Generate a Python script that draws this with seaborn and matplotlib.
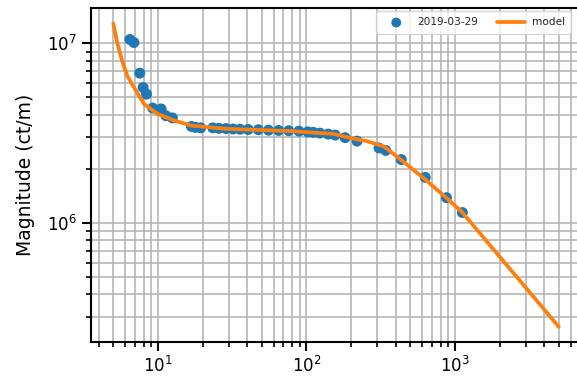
import matplotlib
matplotlib.use("Agg")
import matplotlib.pyplot as plt
import seaborn as sns
import pandas as pd

# measured points (2019-03-29)
freq = [6.47, 6.89, 7.54, 7.94, 8.37, 9.21, 10.5, 11.3, 12.5, 16.8, 17.9, 19.4,
        23.4, 25.7, 28.7, 32.0, 35.7, 40.5, 47.4, 55.5, 64.9, 76.0, 89.0, 102,
        111, 123, 140, 156, 182, 219, 308, 342, 435, 631, 877, 1122]
mag = [1.05e7, 1.01e7, 6.82e6, 5.67e6, 5.21e6, 4.36e6, 4.31e6, 3.95e6, 3.84e6,
       3.44e6, 3.40e6, 3.38e6, 3.38e6, 3.36e6, 3.35e6, 3.33e6, 3.32e6, 3.31e6,
       3.30e6, 3.28e6, 3.27e6, 3.26e6, 3.24e6, 3.21e6, 3.19e6, 3.16e6, 3.12e6,
       3.08e6, 2.98e6, 2.85e6, 2.61e6, 2.53e6, 2.25e6, 1.79e6, 1.38e6, 1.14e6]

# model curve
model_freq = [5.0, 5.31, 5.74, 6.21, 6.89, 8.05, 9.95, 12.9, 16.8, 28.4, 80.9,
              117, 152, 197, 255, 333, 443, 622, 863, 1113, 2084, 3000, 5000]
model_mag = [1.29e7, 1.01e7, 7.98e6, 6.59e6, 5.68e6, 4.59e6, 4.04e6, 3.71e6,
             3.48e6, 3.34e6, 3.24e6, 3.17e6, 3.13e6, 2.97e6, 2.85e6, 2.66e6,
             2.21e6, 1.76e6, 1.39e6, 1.15e6, 6.21e5, 4.35e5, 2.63e5]

pts = pd.DataFrame({"freq": freq, "mag": mag})
mod = pd.DataFrame({"freq": model_freq, "mag": model_mag})

sns.set_style("ticks")
plt.rcParams["font.family"] = ["DejaVu Sans"]

fig = plt.figure(figsize=(5.77, 3.76), dpi=100)
ax = fig.add_axes([0.1577, 0.0904, 0.8493, 0.8875])

sns.scatterplot(data=pts, x="freq", y="mag", ax=ax, color="#1f77b4", s=62,
                edgecolor="none", label="2019-03-29", zorder=3)
sns.lineplot(data=mod, x="freq", y="mag", ax=ax, color="#ff7f0e", lw=2.7,
             label="model", zorder=4)

ax.set_xscale("log")
ax.set_yscale("log")
ax.grid(True, which="both", color="#b0b0b0", lw=1.1)
ax.set_axisbelow(True)

ax.set_xlabel("")
ax.set_ylabel("Magnitude (ct/m)", fontsize=13.5, color="black", labelpad=9)
ax.tick_params(which="major", labelsize=12, length=6.5, width=1.5, color="black",
               labelcolor="black")
ax.tick_params(which="minor", length=3.6, width=1.2, color="black")
for s in ax.spines.values():
    s.set_linewidth(1.5)
    s.set_color("black")

ax.legend(loc="upper right", bbox_to_anchor=(571 / 577, 1 - 11 / 376),
          bbox_transform=fig.transFigure, borderaxespad=0, ncol=2,
          fontsize=7.6, markerscale=0.9, handlelength=2.7, handletextpad=0.6,
          columnspacing=1.8, borderpad=0.6)

fig.savefig("out.png", dpi=100)
